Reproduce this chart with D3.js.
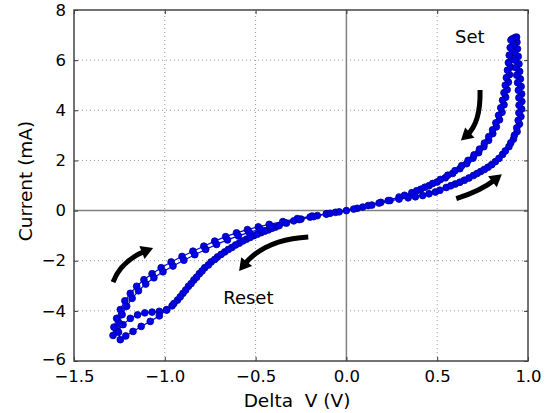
<!DOCTYPE html>
<html>
<head>
<meta charset="utf-8">
<script src="https://cdn.jsdelivr.net/npm/d3@7"></script>
<style>
  body { margin: 0; background: #fff; }
  text { font-family: "DejaVu Sans", sans-serif; fill: #000; }
</style>
</head>
<body>
<div class="container"></div>
<script>
const w = 546;
const h = 413;

// x ticks / y ticks
const xTicks = [-1.5, -1.0, -0.5, 0.0, 0.5, 1.0];
const yTicks = [-6, -4, -2, 0, 2, 4, 6, 8];

// cycle 1: [V, mA]
const posFwd1 = [[0.00,0.00],[0.12,0.20],[0.24,0.40],[0.34,0.51],[0.42,0.60],[0.49,0.74],[0.55,0.92],[0.60,1.06],[0.65,1.21],[0.70,1.40],[0.74,1.56],[0.78,1.73],[0.82,1.95],[0.86,2.24],[0.895,2.55],[0.92,2.85],[0.94,3.15],[0.953,3.45],[0.961,3.75],[0.965,4.05],[0.966,4.35],[0.965,4.65],[0.962,4.95],[0.958,5.25],[0.954,5.55],[0.95,5.85],[0.946,6.15],[0.942,6.45],[0.939,6.72],[0.937,6.92]];
const posRet1 = [[0.928,6.90],[0.922,6.62],[0.916,6.32],[0.910,6.02],[0.904,5.72],[0.898,5.42],[0.892,5.12],[0.885,4.82],[0.877,4.52],[0.868,4.22],[0.857,3.92],[0.843,3.62],[0.826,3.34],[0.806,3.07],[0.783,2.80],[0.757,2.55],[0.728,2.31],[0.697,2.09],[0.662,1.87],[0.625,1.67],[0.585,1.48],[0.545,1.31],[0.500,1.14],[0.455,0.99],[0.410,0.85],[0.360,0.71],[0.290,0.54],[0.190,0.33],[0.090,0.14]];
const negFwd1 = [[-0.06,-0.07],[-0.16,-0.20],[-0.25,-0.34],[-0.33,-0.50],[-0.39,-0.66],[-0.43,-0.77],[-0.47,-0.88],[-0.51,-1.00],[-0.55,-1.14],[-0.59,-1.30],[-0.63,-1.47],[-0.67,-1.65],[-0.71,-1.85],[-0.745,-2.05],[-0.78,-2.28],[-0.81,-2.52],[-0.84,-2.77],[-0.87,-3.02],[-0.90,-3.30],[-0.93,-3.57],[-0.96,-3.80],[-0.99,-3.95],[-1.03,-4.02],[-1.07,-4.05],[-1.11,-4.08],[-1.15,-4.16],[-1.19,-4.30],[-1.23,-4.55],[-1.26,-4.80],[-1.285,-4.98]];
const negRet1 = [[-1.28,-4.65],[-1.265,-4.30],[-1.245,-3.95],[-1.22,-3.60],[-1.19,-3.30],[-1.155,-3.02],[-1.115,-2.76],[-1.07,-2.52],[-1.02,-2.28],[-0.965,-2.05],[-0.905,-1.83],[-0.845,-1.62],[-0.785,-1.42],[-0.725,-1.22],[-0.665,-1.04],[-0.605,-0.89],[-0.545,-0.76],[-0.485,-0.65],[-0.425,-0.55],[-0.35,-0.44],[-0.27,-0.32],[-0.19,-0.22],[-0.11,-0.13],[-0.04,-0.05]];

// cycle 2
const posFwd2 = [[0.06,0.09],[0.18,0.30],[0.29,0.46],[0.38,0.55],[0.455,0.67],[0.515,0.81],[0.575,0.99],[0.625,1.13],[0.675,1.30],[0.72,1.48],[0.76,1.64],[0.80,1.83],[0.84,2.08],[0.875,2.38],[0.905,2.70],[0.925,3.00],[0.938,3.30],[0.946,3.60],[0.950,3.90],[0.951,4.20],[0.950,4.50],[0.947,4.80],[0.943,5.10],[0.938,5.40],[0.933,5.70],[0.928,6.00],[0.923,6.30],[0.918,6.60],[0.914,6.85]];
const posRet2 = [[0.906,6.80],[0.902,6.50],[0.897,6.20],[0.892,5.90],[0.887,5.60],[0.881,5.30],[0.875,5.00],[0.868,4.70],[0.860,4.40],[0.850,4.10],[0.838,3.80],[0.823,3.50],[0.805,3.22],[0.784,2.95],[0.760,2.69],[0.733,2.45],[0.703,2.22],[0.670,2.00],[0.635,1.79],[0.598,1.59],[0.558,1.41],[0.518,1.24],[0.475,1.08],[0.432,0.93],[0.387,0.79],[0.320,0.61],[0.230,0.40],[0.140,0.22],[0.040,0.06]];
const negFwd2 = [[-0.11,-0.14],[-0.20,-0.26],[-0.29,-0.41],[-0.37,-0.60],[-0.41,-0.71],[-0.45,-0.82],[-0.49,-0.94],[-0.53,-1.07],[-0.57,-1.21],[-0.61,-1.37],[-0.65,-1.55],[-0.69,-1.75],[-0.725,-1.95],[-0.76,-2.17],[-0.795,-2.41],[-0.825,-2.66],[-0.855,-2.91],[-0.885,-3.17],[-0.915,-3.44],[-0.95,-3.71],[-0.99,-3.97],[-1.03,-4.20],[-1.08,-4.42],[-1.13,-4.62],[-1.175,-4.82],[-1.215,-5.00],[-1.245,-5.15]];
const negRet2 = [[-1.255,-4.85],[-1.25,-4.50],[-1.235,-4.15],[-1.21,-3.82],[-1.18,-3.50],[-1.145,-3.20],[-1.105,-2.93],[-1.06,-2.68],[-1.01,-2.44],[-0.955,-2.21],[-0.895,-1.98],[-0.835,-1.76],[-0.775,-1.55],[-0.715,-1.35],[-0.655,-1.17],[-0.595,-1.01],[-0.535,-0.87],[-0.475,-0.74],[-0.415,-0.62],[-0.34,-0.48],[-0.26,-0.36],[-0.18,-0.24],[-0.09,-0.11]];

// annotations: arrows as [start, control, end] in data units, labels
const arrows = [
  [[0.736, 4.81], [0.740, 3.50], [0.655, 2.95]],
  [[0.605, 0.48], [0.740, 0.78], [0.830, 1.30]],
  [[-0.21, -1.05], [-0.45, -1.15], [-0.57, -2.22]],
  [[-1.285, -2.85], [-1.24, -2.00], [-1.095, -1.58]]
];
const labels = [
  {text: 'Set', v: 0.68, i: 6.92},
  {text: 'Reset', v: -0.54, i: -3.49}
];

const margin = {top: 10, right: 18, bottom: 52, left: 74};
const x = d3.scaleLinear().domain([-1.5, 1.0]).range([margin.left, w - margin.right]);
const y = d3.scaleLinear().domain([-6, 8]).range([h - margin.bottom, margin.top]);

const svg = d3.select('.container').append('svg')
        .attr('width', w)
        .attr('height', h);

const fmt = v => d3.format('.1f')(v).replace('-', '\u2212');
const fmtY = v => String(v).replace('-', '\u2212');

// grid
svg.append('g')
  .selectAll('line')
  .data(xTicks.slice(1, -1).filter(d => d !== 0))
  .join('line')
    .attr('x1', d => x(d)).attr('x2', d => x(d))
    .attr('y1', y(-6)).attr('y2', y(8))
    .attr('stroke', '#999').attr('stroke-dasharray', '1,3');
svg.append('g')
  .selectAll('line')
  .data(yTicks.slice(1, -1).filter(d => d !== 0))
  .join('line')
    .attr('y1', d => y(d)).attr('y2', d => y(d))
    .attr('x1', x(-1.5)).attr('x2', x(1.0))
    .attr('stroke', '#999').attr('stroke-dasharray', '1,3');

// zero lines
svg.append('line')
  .attr('x1', x(0)).attr('x2', x(0)).attr('y1', y(-6)).attr('y2', y(8))
  .attr('stroke', '#808080').attr('stroke-width', 1.5);
svg.append('line')
  .attr('x1', x(-1.5)).attr('x2', x(1.0)).attr('y1', y(0)).attr('y2', y(0))
  .attr('stroke', '#808080').attr('stroke-width', 1.5);

// axes
svg.append('g')
  .attr('transform', `translate(0, ${y(-6)})`)
  .call(d3.axisBottom(x).tickValues(xTicks).tickFormat(fmt).tickSizeInner(-4).tickSizeOuter(0).tickPadding(9));
const yAxis = svg.append('g')
  .attr('transform', `translate(${x(-1.5)}, 0)`)
  .call(d3.axisLeft(y).tickValues(yTicks).tickFormat(fmtY).tickSizeInner(-4).tickSizeOuter(0).tickPadding(8));
svg.append('g')
  .attr('transform', `translate(0, ${y(8)})`)
  .call(d3.axisTop(x).tickValues(xTicks).tickFormat('').tickSizeInner(-4).tickSizeOuter(0));
svg.append('g')
  .attr('transform', `translate(${x(1.0)}, 0)`)
  .call(d3.axisRight(y).tickValues(yTicks).tickFormat('').tickSizeInner(-4).tickSizeOuter(0));

svg.selectAll('.domain').remove();
svg.selectAll('.tick line').attr('stroke', '#333');
svg.selectAll('.tick text')
  .style('font-family', '"DejaVu Sans", sans-serif')
  .style('font-size', '16.5px')
  .attr('fill', '#000');

// lift the lowest y label a little so it clears the first x label
yAxis.selectAll('.tick')
  .filter(d => d === -6)
  .select('text')
  .attr('dy', '0.2em');

// frame
svg.append('rect')
  .attr('x', x(-1.5)).attr('y', y(8))
  .attr('width', x(1.0) - x(-1.5)).attr('height', y(-6) - y(8))
  .attr('fill', 'none').attr('stroke', '#444').attr('stroke-width', 1.5);

// axis titles
svg.append('text')
  .attr('x', 297)
  .attr('y', 407)
  .attr('text-anchor', 'middle')
  .style('font-size', '18.5px')
  .style('white-space', 'pre')
  .text('Delta  V (V)');

svg.append('text')
  .attr('transform', `translate(32, 181) rotate(-90)`)
  .attr('text-anchor', 'middle')
  .style('font-size', '18.5px')
  .text('Current (mA)');

// data
const data = [].concat(posFwd1, posRet1, negFwd1, negRet1, posFwd2, posRet2, negFwd2, negRet2);

const line = d3.line()
  .x(d => x(d[0]))
  .y(d => y(d[1]));

svg.append('path')
  .datum(data)
  .attr('d', line)
  .attr('fill', 'none')
  .attr('stroke', '#0000ff')
  .attr('stroke-width', 1.2);

svg.append('g')
  .selectAll('circle')
  .data(data)
  .join('circle')
    .attr('cx', d => x(d[0]))
    .attr('cy', d => y(d[1]))
    .attr('r', 3.4)
    .attr('fill', '#0000ee')
    .attr('stroke', '#00008b')
    .attr('stroke-width', 0.8);

// arrows
arrows.forEach(a => {
  const p = a.map(d => [x(d[0]), y(d[1])]);
  let dx = p[2][0] - p[1][0], dy = p[2][1] - p[1][1];
  const len = Math.hypot(dx, dy);
  dx /= len; dy /= len;
  const nx = -dy, ny = dx;
  const e = [p[2][0] - dx * 2, p[2][1] - dy * 2];
  svg.append('path')
    .attr('d', `M${p[0][0]},${p[0][1]} Q${p[1][0]},${p[1][1]} ${e[0]},${e[1]}`)
    .attr('fill', 'none')
    .attr('stroke', '#000')
    .attr('stroke-width', 5);
  const tip = [p[2][0] + dx * 6, p[2][1] + dy * 6];
  const b = [p[2][0] - dx * 6, p[2][1] - dy * 6];
  svg.append('path')
    .attr('d', `M${tip[0]},${tip[1]} L${b[0] + nx * 7},${b[1] + ny * 7} L${b[0] - nx * 7},${b[1] - ny * 7} Z`)
    .attr('fill', '#000');
});

svg.append('g')
  .selectAll('text')
  .data(labels)
  .join('text')
    .attr('x', d => x(d.v))
    .attr('y', d => y(d.i))
    .attr('dy', '0.35em')
    .attr('text-anchor', 'middle')
    .style('font-size', '18px')
    .text(d => d.text);
</script>
</body>
</html>
